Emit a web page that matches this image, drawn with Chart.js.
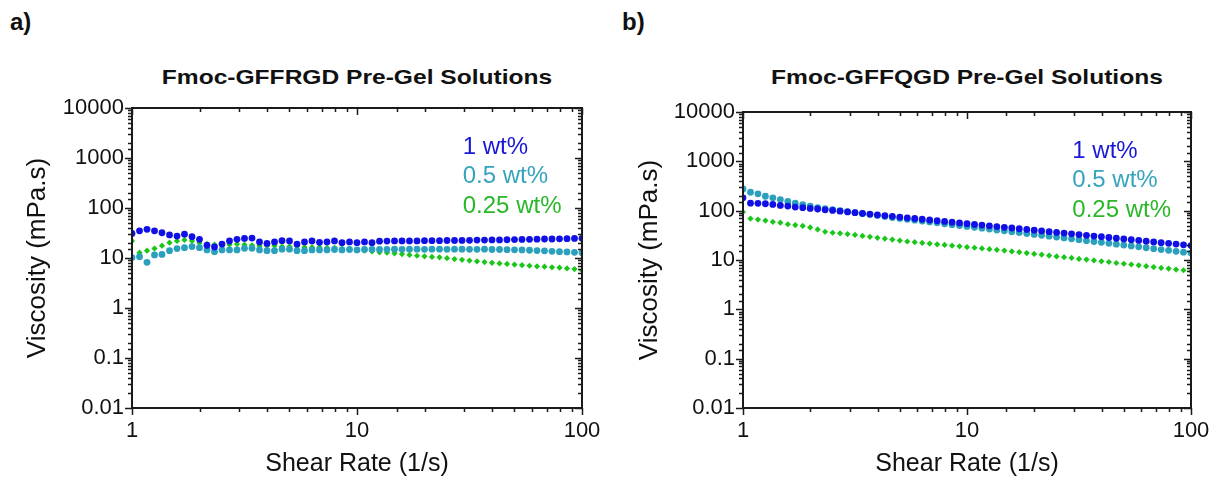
<!DOCTYPE html>
<html>
<head>
<meta charset="utf-8">
<script src="https://cdn.jsdelivr.net/npm/chart.js@4.4.1/dist/chart.umd.min.js"></script>
<style>
body { margin: 0; background: #fff; width: 1225px; height: 486px; overflow: hidden; position: relative; font-family: Arial, "Liberation Sans", sans-serif; }
canvas { position: absolute; top: 0; }
.lab { position: absolute; top: 8px; font-weight: bold; font-size: 24px; color: #111; }
.ttl { position: absolute; top: 65px; font-weight: bold; font-size: 21px; text-align: center; color: #111; transform: scaleX(1.17); transform-origin: center; }
</style>
</head>
<body>
<div class="lab" style="left:10px">a)</div>
<div class="lab" style="left:622px">b)</div>
<div class="ttl" style="left:132px;width:450px">Fmoc-GFFRGD Pre-Gel Solutions</div>
<div class="ttl" style="left:743px;width:448px">Fmoc-GFFQGD Pre-Gel Solutions</div>
<canvas id="rgd" width="612" height="486" style="left:0"></canvas>
<canvas id="qgd" width="613" height="486" style="left:612px"></canvas>
<script>
// shear rate (1/s), same for every run
var shearRate = [1, 1.08, 1.166, 1.259, 1.359, 1.468, 1.585, 1.711, 1.848, 1.995,
    2.154, 2.326, 2.512, 2.712, 2.929, 3.162, 3.415, 3.687, 3.981, 4.299,
    4.642, 5.012, 5.412, 5.843, 6.31, 6.813, 7.356, 7.943, 8.577, 9.261,
    10, 10.8, 11.66, 12.59, 13.59, 14.68, 15.85, 17.11, 18.48, 19.95,
    21.54, 23.26, 25.12, 27.12, 29.29, 31.62, 34.15, 36.87, 39.81, 42.99,
    46.42, 50.12, 54.12, 58.43, 63.1, 68.13, 73.56, 79.43, 85.77, 92.61, 100];

// a) Fmoc-GFFRGD viscosity (mPa.s)
var rgd1 = [31, 35, 37.5, 35, 32, 29, 27.5, 30, 26.7, 23.6,
    18, 16.6, 19, 21.9, 23.6, 24.6, 25, 21, 19.6, 21,
    22.2, 22, 19, 21, 22, 20.6, 21, 22, 20.3, 21,
    20.3, 21, 20.3, 21.7, 21.8, 22, 22, 22, 22, 22.2,
    22.2, 22.2, 22.4, 22.4, 22.5, 22.6, 22.8, 22.8, 23, 23,
    23.2, 23.4, 23.5, 23.6, 23.8, 24, 24, 24.2, 24.4, 24.6, 24.8];
var rgd05 = [10.2, 10.6, 8.2, 11.5, 11.8, 14, 15.4, 16.1, 16.9, 16.1,
    14.5, 13.4, 14.5, 14.5, 14.5, 15.6, 15.6, 14.5, 14, 14,
    15, 15, 14, 14, 14.5, 14.5, 14.5, 14.8, 14.5, 14.8,
    14.5, 14.8, 14.9, 14.8, 14.9, 15, 14.9, 15, 15, 14.9,
    15, 15, 14.9, 15, 15, 14.9, 14.9, 15, 14.8, 14.8,
    14.7, 14.6, 14.5, 14.3, 14.1, 13.9, 13.6, 13.4, 13.2, 13, 12.7];
var rgd025 = [22, 12.8, 14, 15.4, 17.6, 20.3, 22, 23, 22, 20,
    19, 18.5, 18, 18.5, 19, 18.5, 18, 17.5, 17.5, 17.5,
    17, 17, 17, 16.5, 16.5, 16.5, 16, 16, 15.5, 15,
    14.5, 14, 13.5, 13, 12.8, 12.4, 12, 11.5, 11.1, 10.8,
    10.5, 10.3, 9.9, 9.5, 9.2, 8.9, 8.6, 8.3, 8, 7.8,
    7.6, 7.4, 7.2, 7, 6.8, 6.7, 6.5, 6.4, 6.2, 6, 5.6];

// b) Fmoc-GFFQGD viscosity (mPa.s)
var qgd1 = [182, 142, 141, 138, 134, 128, 124, 118, 115, 111,
    108, 104, 101, 97.5, 94.2, 91, 87.9, 85.1, 82.2, 79.4,
    76.7, 74.2, 71.7, 69.3, 67, 64.7, 62.5, 60.5, 58.5, 56.5,
    54.6, 52.7, 51, 49.3, 47.6, 46, 44.5, 43, 41.6, 40.2,
    38.8, 37.5, 36.3, 35.1, 33.9, 32.7, 31.6, 30.6, 29.6, 28.6,
    27.6, 26.7, 25.8, 24.9, 24.1, 23.3, 22.5, 21.8, 21, 20.3, 19.6];
var qgd05 = [275, 236, 219, 196, 182, 168, 154, 142, 132, 124,
    115, 110, 105, 100, 95.7, 91.4, 87.3, 83.4, 79.6, 76,
    72.6, 69.7, 66.8, 64.1, 61.5, 59, 56.6, 54.3, 52.1, 50,
    48, 46, 44.2, 42.4, 40.6, 39, 37.4, 35.9, 34.4, 33,
    31.7, 30.4, 29.2, 28, 26.9, 25.8, 24.7, 23.7, 22.8, 21.8,
    20.9, 20.1, 19.3, 18.5, 17.7, 17, 16.3, 15.7, 15, 14.4, 13.8];
var qgd025 = [94, 69, 66, 63, 59, 57, 53, 51, 49, 45.7,
    41.7, 37.4, 35.7, 34.7, 33.6, 32.2, 30.8, 29.5, 28.2, 27,
    25.9, 24.8, 23.7, 23, 22.2, 21.5, 20.8, 20.2, 19.5, 18.9,
    18.3, 17.7, 17.2, 16.6, 16.1, 15.5, 14.9, 14.4, 13.8, 13.3,
    12.8, 12.3, 11.8, 11.4, 11, 10.5, 10.2, 9.8, 9.4, 9.1,
    8.7, 8.4, 8.1, 7.8, 7.5, 7.2, 6.9, 6.7, 6.4, 6.2, 5.9];

var seriesLabels = ['1 wt%', '0.5 wt%', '0.25 wt%'];
var xTickValues = [1, 10, 100];
var xTickLabels = ['1', '10', '100'];
var yTickValues = [0.01, 0.1, 1, 10, 100, 1000, 10000];
var yTickLabels = ['0.01', '0.1', '1', '10', '100', '1000', '10000'];

var pointColors = ['#1010e6', '#2ba0bd', '#19c619'];
var textColors = ['#1818d6', '#36a4bc', '#2ab82a'];
var FONT = 'Arial, "Liberation Sans", sans-serif';

function findLabel(v, values, labels) {
    for (let i in values) {
        if (Math.abs(v / values[i] - 1) < 1e-6) return labels[i];
    }
    return '';
}
function isDecade(v) {
    let l = Math.log10(v);
    return Math.abs(l - Math.round(l)) < 1e-6;
}

// frame, tick marks (outside on bottom/left, inside on top/right) and text legend
var framePlugin = {
    id: 'frame',
    afterDatasetsDraw(chart) {
        let ctx = chart.ctx, a = chart.chartArea;
        let xs = chart.scales.x, ys = chart.scales.y;
        ctx.save();
        ctx.strokeStyle = '#1a1a1a';
        ctx.lineWidth = 1.5;
        ctx.beginPath();
        xs.ticks.forEach(t => {
            let p = Math.round(xs.getPixelForValue(t.value)) + 0.5;
            let len = isDecade(t.value) ? 7 : 4;
            ctx.moveTo(p, a.bottom); ctx.lineTo(p, a.bottom + len);
            ctx.moveTo(p, a.top); ctx.lineTo(p, a.top + len);
        });
        ys.ticks.forEach(t => {
            let p = Math.round(ys.getPixelForValue(t.value)) + 0.5;
            let len = isDecade(t.value) ? 7 : 4;
            ctx.moveTo(a.left - len, p); ctx.lineTo(a.left, p);
            ctx.moveTo(a.right - len, p); ctx.lineTo(a.right, p);
        });
        ctx.stroke();
        ctx.lineWidth = 2;
        ctx.strokeRect(a.left, a.top, a.right - a.left, a.bottom - a.top);
        // legend text
        ctx.font = '24px ' + FONT;
        ctx.textBaseline = 'middle';
        let lx = a.left + (a.right - a.left) * 0.735;
        chart.data.datasets.forEach((d, i) => {
            ctx.fillStyle = textColors[i];
            ctx.fillText(d.label, lx, a.top + 39 + i * 29.5);
        });
        ctx.restore();
    }
};

function makeChart(id, series, axisWidth, rightPad, topPad) {
    let datasets = series.map((s, i) => ({
        label: seriesLabels[i],
        data: shearRate.map((x, j) => ({ x: x, y: s[j] })),
        backgroundColor: pointColors[i],
        borderWidth: 0,
        pointStyle: i == 2 ? 'rectRot' : 'circle',
        pointRadius: i == 2 ? 3.1 : 3.4,
        showLine: false,
    }));
    return new Chart(document.getElementById(id).getContext('2d'), {
        type: 'scatter',
        data: { datasets: datasets },
        options: {
            responsive: false,
            animation: false,
            layout: { padding: { left: 0, top: topPad, right: rightPad, bottom: 0 } },
            plugins: { legend: { display: false }, tooltip: { enabled: false } },
            scales: {
                x: {
                    type: 'logarithmic',
                    min: 1, max: 100,
                    afterFit: (s) => { s.height = 78; },
                    grid: { drawOnChartArea: false, tickLength: 7, tickColor: 'rgba(0,0,0,0)' },
                    border: { display: false },
                    ticks: {
                        autoSkip: false, maxRotation: 0, minRotation: 0, padding: 3,
                        color: '#111', font: { size: 22, family: FONT },
                        callback: (v) => findLabel(v, xTickValues, xTickLabels),
                    },
                    title: {
                        display: true, text: 'Shear Rate (1/s)', color: '#111',
                        font: { size: 25, family: FONT },
                        padding: { top: 0, bottom: 7 },
                    },
                },
                y: {
                    type: 'logarithmic',
                    min: 0.01, max: 10000,
                    afterFit: (s) => { s.width = axisWidth; },
                    grid: { drawOnChartArea: false, tickLength: 7, tickColor: 'rgba(0,0,0,0)' },
                    border: { display: false },
                    ticks: {
                        autoSkip: false, padding: 1,
                        color: '#111', font: { size: 22, family: FONT },
                        callback: (v) => findLabel(v, yTickValues, yTickLabels),
                    },
                    title: {
                        display: true, text: 'Viscosity (mPa.s)', color: '#111',
                        font: { size: 26, family: FONT },
                        padding: { top: 22, bottom: 0 },
                    },
                },
            },
        },
        plugins: [framePlugin],
    });
}

onload = function () {
    makeChart('rgd', [rgd1, rgd05, rgd025], 132, 30, 108);
    makeChart('qgd', [qgd1, qgd05, qgd025], 131, 34, 112);
};
</script>
</body>
</html>
